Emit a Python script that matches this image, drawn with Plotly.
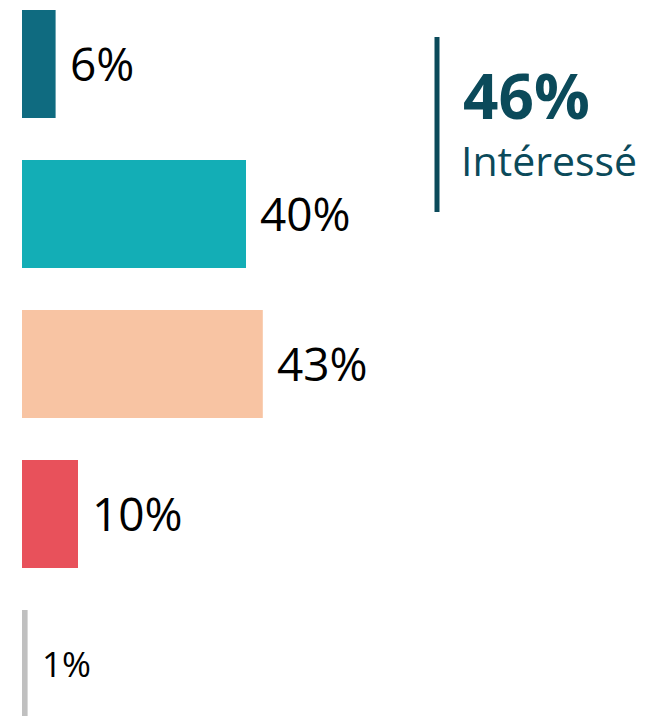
import plotly.graph_objects as go

categories = ["Très intéressé", "Plutôt intéressé", "Plutôt pas intéressé", "Pas du tout intéressé", "Ne sait pas"]
values = [6, 40, 43, 10, 1]
labels = ["6%", "40%", "43%", "10%", "1%"]
colors = ["#0f6b80", "#13aeb6", "#f8c4a3", "#e8515b", "#c0c0c0"]
label_sizes = [46, 46, 46, 46, 35]
summary_value = "46%"
summary_label = "Intéressé"

W, H = 651, 716
OFF = 8  # page offset of the figure
L = 22 - OFF
pxper = 5.6
plot_w = W - L
ypos = list(range(len(categories)))
c0 = 64 - OFF  # first bar center in figure pixels

fig = go.Figure()
fig.add_trace(go.Bar(
    x=values, y=ypos, orientation="h",
    marker=dict(color=colors, line=dict(width=0)),
    width=0.72, hoverinfo="skip", showlegend=False,
))

for i, (v, t, s) in enumerate(zip(values, labels, label_sizes)):
    fig.add_annotation(x=v, y=i, text=t, showarrow=False, xanchor="left", yanchor="middle",
                       xshift=12, yshift=1, font=dict(family="Open Sans", size=s, color="#000000"))

teal = "#0b4a5a"
def px(x):
    return (x - OFF - L) / plot_w
def py(y):
    return 1 - (y - OFF) / H

fig.add_shape(type="line", xref="paper", yref="paper",
              x0=px(437), x1=px(437), y0=py(212), y1=py(37),
              line=dict(color=teal, width=5))
fig.add_annotation(xref="paper", yref="paper", x=px(461), y=py(95),
                   text="<b>" + summary_value + "</b>", showarrow=False, xanchor="left", yanchor="middle",
                   font=dict(family="Open Sans", size=62, color=teal))
fig.add_annotation(xref="paper", yref="paper", x=px(459), y=py(160),
                   text=summary_label, showarrow=False, xanchor="left", yanchor="middle",
                   font=dict(family="Open Sans", size=41, color=teal))

fig.update_layout(
    width=W, height=H, margin=dict(l=L, r=0, t=0, b=0),
    paper_bgcolor="white", plot_bgcolor="white",
    xaxis=dict(range=[0, plot_w / pxper], visible=False, fixedrange=True),
    yaxis=dict(range=[(H - c0) / 150, -c0 / 150], visible=False, fixedrange=True),
    bargap=0.28,
)
fig.write_html("out.html", config={"displayModeBar": False})
